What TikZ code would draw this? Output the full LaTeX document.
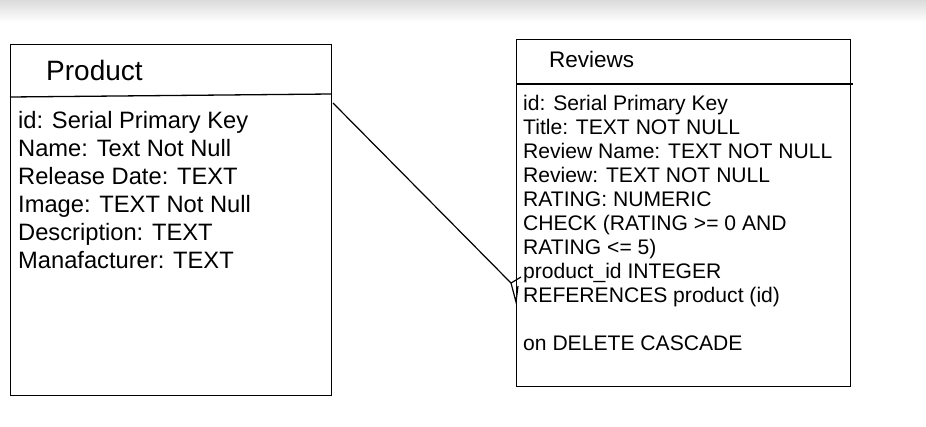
\documentclass[tikz,border=0pt]{standalone}
\usepackage{fontspec}
\setmainfont{Liberation Sans}
\begin{document}
\begin{tikzpicture}[x=1pt,y=-1pt,
  tbl/.style={draw,line width=1.3pt,inner sep=0pt,anchor=north west},
  ln/.style={line width=1.3pt},
  rel/.style={line width=1.2pt},
  ptext/.style={anchor=base west,inner sep=0pt,font=\fontsize{23.7}{28}\selectfont},
  rtext/.style={anchor=base west,inner sep=0pt,font=\fontsize{21.1}{24}\selectfont}]
\useasboundingbox (0,0) rectangle (926,426);
\shade[top color=black!14,bottom color=white] (0,0) rectangle (926,22);
% Product table
\node[tbl,minimum width=321pt,minimum height=351pt] (prod) at (10,44) {};
\coordinate (pdl) at (10,97);
\coordinate (pdr) at (331,94);
\draw[ln] (pdl) -- (pdr);
\node[anchor=base west,inner sep=0pt,font=\fontsize{28}{32}\selectfont] (ptitle) at (46,80) {Product};
\node[ptext] (p1) at (18,128) {id: Serial Primary Key};
\node[ptext] (p2) at (18,156) {Name: Text Not Null};
\node[ptext] (p3) at (18,184) {Release Date: TEXT};
\node[ptext] (p4) at (18,212) {Image: TEXT Not Null};
\node[ptext] (p5) at (18,240) {Description: TEXT};
\node[ptext] (p6) at (18,268) {Manafacturer: TEXT};
% Reviews table
\node[tbl,minimum width=334pt,minimum height=347pt] (rev) at (516,39) {};
\coordinate (rdl) at (516,84);
\coordinate (rdr) at (853,84);
\draw[ln] (rdl) -- (rdr);
\node[anchor=base west,inner sep=0pt,font=\fontsize{22.5}{26}\selectfont] (rtitle) at (549,67) {Reviews};
\node[rtext] (r1) at (523,110) {id: Serial Primary Key};
\node[rtext] (r2) at (523,134) {Title: TEXT NOT NULL};
\node[rtext] (r3) at (523,158) {Review Name: TEXT NOT NULL};
\node[rtext] (r4) at (523,182) {Review: TEXT NOT NULL};
\node[rtext] (r5) at (523,206) {RATING: NUMERIC};
\node[rtext] (r6) at (523,230) {CHECK (RATING >= 0 AND};
\node[rtext] (r7) at (523,254) {RATING <= 5)};
\node[rtext] (r8) at (523,278) {product\_id INTEGER};
\node[rtext] (r9) at (523,302) {REFERENCES product (id)};
\node[rtext] (r10) at (523,350) {on DELETE CASCADE};
% Relationship
\coordinate (cs) at (333,103);
\coordinate (ct) at (511,283);
\coordinate (cf1) at (521,277);
\coordinate (cf2) at (516,302);
\coordinate (cf3) at (518,286);
\draw[rel] (cs) -- (ct);
\draw[rel] (ct) -- (cf1);
\draw[rel] (ct) -- (cf2) -- (cf3);
\end{tikzpicture}
\end{document}
